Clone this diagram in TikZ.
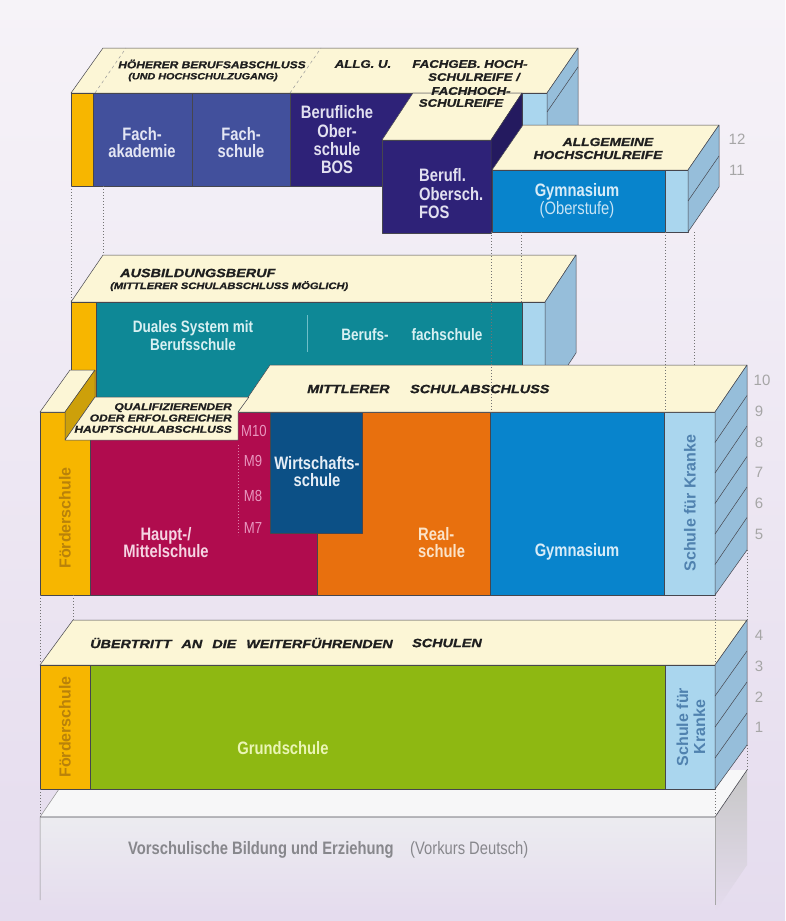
\documentclass[tikz,border=0pt]{standalone}
\usepackage{fontspec}
\setmainfont{Liberation Sans}
\newfontfamily\cf[FakeStretch=0.82]{Liberation Sans}
\newfontfamily\wf[FakeStretch=1.2,FakeBold=1.2]{Liberation Sans}
\newcommand\myfs[2]{\fontsize{#1}{#2}\selectfont}
\definecolor{bgtop}{RGB}{246,243,248}
\definecolor{bgbot}{RGB}{229,220,238}
\definecolor{cream}{RGB}{252,246,214}
\definecolor{yel}{RGB}{247,182,0}
\definecolor{olivey}{RGB}{205,160,10}
\definecolor{fblue}{RGB}{66,80,156}
\definecolor{purp}{RGB}{46,34,120}
\definecolor{purpside}{RGB}{36,26,95}
\definecolor{gymb}{RGB}{8,132,204}
\definecolor{kblue}{RGB}{170,214,238}
\definecolor{sideb}{RGB}{150,190,218}
\definecolor{myteal}{RGB}{14,136,150}
\definecolor{mag}{RGB}{176,12,78}
\definecolor{wblue}{RGB}{12,80,134}
\definecolor{oran}{RGB}{232,112,14}
\definecolor{grn}{RGB}{142,184,18}
\definecolor{edge}{RGB}{70,70,78}
\definecolor{fgold}{RGB}{185,130,10}
\definecolor{ktext}{RGB}{80,130,175}
\definecolor{slabtop}{RGB}{247,247,248}
\definecolor{slabfront}{RGB}{236,236,240}
\definecolor{vtext}{RGB}{135,135,140}
\tikzset{
  face/.style={draw=edge, line width=0.5pt, line join=round},
  blk/.style={font={\cf\bfseries\myfs{18}{17}}, align=center, inner sep=0pt},
  lbl/.style={font={\wf\bfseries\itshape\myfs{10}{11}}, text=black!88, inner sep=0pt, align=center},
  dots/.style={draw=black!55, line width=0.9pt, dash pattern=on 1pt off 2pt},
  yr/.style={font={\myfs{15}{15}}, text=black!35, inner sep=0pt},
  vert/.style={font={\bfseries\myfs{16}{16}}, rotate=90, inner sep=0pt, align=center},
  gline/.style={draw=edge, line width=0.5pt}
}
\begin{document}
\begin{tikzpicture}[x=1pt,y=-1pt]
\useasboundingbox (0,0) rectangle (785,921);
\fill[top color=bgtop, bottom color=bgbot] (0,0) rectangle (785,921);

% ---------- top block ----------
\path[face, fill=cream] (71,93)--(547,93)--(578,48)--(103,48)--cycle;
\draw[black!40, dashed, line width=0.5pt] (95,93)--(126,48);
\draw[black!40, dashed, line width=0.5pt] (290,93)--(321,48);
\path[face, fill=yel] (71,93) rectangle (93,186);
\path[face, fill=fblue] (93,93) rectangle (192,186);
\path[face, fill=fblue] (192,93) rectangle (290,186);
\path[face, fill=purp] (290,93) rectangle (522,186);
\path[face, fill=kblue] (522,93) rectangle (547,186);
\path[face, fill=sideb] (547,93)--(578,48)--(578,140)--(547,186)--cycle;
\draw[gline] (547,112)--(578,67);
% FOS block
\path[face, fill=cream] (382,140)--(491,140)--(522,93)--(413,93)--cycle;
\path[face, fill=purp] (382,140) rectangle (491,233);
\path[face, fill=purpside] (491,140)--(522,93)--(522,186)--(491,233)--cycle;
% Gymnasium Oberstufe block
\path[face, fill=cream] (492,170)--(688,170)--(719,125)--(523,125)--cycle;
\path[face, fill=gymb] (492,170) rectangle (665,232);
\path[face, fill=kblue] (665,170) rectangle (688,232);
\path[face, fill=sideb] (688,170)--(719,125)--(719,187)--(688,232)--cycle;
\draw[gline] (688,201)--(719,156);

\node[lbl] (l1) at (212,64) {HÖHERER BERUFSABSCHLUSS};
\node[lbl, font={\wf\bfseries\itshape\myfs{9}{10}}] (l2) at (203,77) {(UND HOCHSCHULZUGANG)};
\node[lbl, font={\wf\bfseries\itshape\myfs{11}{12}}] (l3) at (363,64) {ALLG. U.};
\node[lbl, font={\wf\bfseries\itshape\myfs{11}{12}}] (l4) at (470,64) {FACHGEB. HOCH-};
\node[lbl, font={\wf\bfseries\itshape\myfs{11}{12}}] (l5) at (474,77) {SCHULREIFE /};
\node[lbl, font={\wf\bfseries\itshape\myfs{11}{12}}] (l6) at (471,91) {FACHHOCH-};
\node[lbl, font={\wf\bfseries\itshape\myfs{11}{12}}] (l7) at (461,103) {SCHULREIFE};
\node[lbl, font={\wf\bfseries\itshape\myfs{11.5}{13}}] (l8) at (608,142) {ALLGEMEINE};
\node[lbl, font={\wf\bfseries\itshape\myfs{11.5}{13}}] (l9) at (598,155) {HOCHSCHULREIFE};

\node[blk, text={rgb,255:red,228;green,230;blue,244}] (fa) at (142,143) {Fach-\\akademie};
\node[blk, text={rgb,255:red,228;green,230;blue,244}] (fs) at (241,143) {Fach-\\schule};
\node[blk, font={\cf\bfseries\myfs{18}{18.3}}, text={rgb,255:red,226;green,224;blue,240}] (bos) at (337,140) {Berufliche\\Ober-\\schule\\BOS};
\node[blk, align=left, anchor=west, font={\cf\bfseries\myfs{18}{18.5}}, text={rgb,255:red,226;green,224;blue,240}] (fos) at (419,194) {Berufl.\\Obersch.\\FOS};
\node[blk, text={rgb,255:red,215;green,236;blue,248}] (gy1) at (577,192) {Gymnasium};
\node[inner sep=0pt, font={\cf\myfs{18}{18}}, text={rgb,255:red,200;green,228;blue,245}] (gy2) at (577,210) {(Oberstufe)};

% ---------- Ausbildung block ----------
\path[face, fill=cream] (71,302)--(545,302)--(576,255)--(103,255)--cycle;
\path[face, fill=yel] (71,302) rectangle (96,400);
\path[face, fill=myteal] (96,302) rectangle (522,400);
\path[face, fill=kblue] (522,302) rectangle (545,400);
\path[face, fill=sideb] (545,302)--(576,255)--(576,353)--(545,400)--cycle;
\draw[line width=1pt, draw={rgb,255:red,110;green,190;blue,200}] (307,315)--(307,352);
\node[lbl, anchor=west, font={\wf\bfseries\itshape\myfs{12}{12}}] (l10) at (120,273) {AUSBILDUNGSBERUF};
\node[lbl, anchor=west, font={\wf\bfseries\itshape\myfs{9.3}{10}}] (l11) at (110,286) {(MITTLERER SCHULABSCHLUSS MÖGLICH)};
\node[blk, font={\cf\bfseries\myfs{16.5}{18}}, text={rgb,255:red,216;green,240;blue,242}] (du) at (193,336) {Duales System mit\\Berufsschule};
\node[blk, font={\cf\bfseries\myfs{16.5}{18}}, text={rgb,255:red,216;green,240;blue,242}] (bf) at (365,335) {Berufs-};
\node[blk, font={\cf\bfseries\myfs{16.5}{18}}, text={rgb,255:red,216;green,240;blue,242}] (fc) at (447,335) {fachschule};

% ---------- big block (5-10) ----------
\path[face, fill=mag] (90,412) rectangle (317,595);
\path[face, fill=oran] (317,412) rectangle (490,595);
\path[face, fill=wblue] (270,412) rectangle (362,533);
\path[face, fill=gymb] (490,412) rectangle (664,595);
\path[face, fill=kblue] (664,412) rectangle (715,595);
\path[face, fill=yel] (40,412) rectangle (90,595);
\path[face, fill=cream] (238,412)--(715,412)--(747,365)--(270,365)--cycle;
\path[face, fill=cream] (40,412)--(65,412)--(95,370)--(70,370)--cycle;
\path[face, fill=olivey] (65,412)--(95,370)--(95,397)--(65,440)--cycle;
\path[face, fill=cream] (65,440)--(238,440)--(238,412)--(249,397)--(95,397)--cycle;
\path[face, fill=sideb] (715,412)--(747,365)--(747,550)--(715,595)--cycle;
\foreach \k in {1,...,5} {\draw[gline] (715,412+30.5*\k)--(747,365+30.5*\k);}
\draw[draw={rgb,255:red,220;green,130;blue,170}, line width=0.7pt, dash pattern=on 1pt off 2pt] (238,445)--(238,535);

\node[lbl, anchor=west, font={\wf\bfseries\itshape\myfs{12}{12}}] (l12) at (307,389) {MITTLERER};
\node[lbl, anchor=west, font={\wf\bfseries\itshape\myfs{12}{12}}] (l12b) at (410,389) {SCHULABSCHLUSS};
\node[lbl, anchor=east, align=right, font={\wf\bfseries\itshape\myfs{10}{11.3}}] (q) at (232,418) {QUALIFIZIERENDER\\ODER ERFOLGREICHER\\HAUPTSCHULABSCHLUSS};

\node[inner sep=0pt, font={\cf\myfs{16}{16}}, text={rgb,255:red,232;green,150;blue,190}] (m10) at (254,431) {M10};
\node[inner sep=0pt, font={\cf\myfs{16}{16}}, text={rgb,255:red,232;green,150;blue,190}] (m9) at (253,461) {M9};
\node[inner sep=0pt, font={\cf\myfs{16}{16}}, text={rgb,255:red,232;green,150;blue,190}] (m8) at (253,496) {M8};
\node[inner sep=0pt, font={\cf\myfs{16}{16}}, text={rgb,255:red,232;green,150;blue,190}] (m7) at (253,528) {M7};

\node[blk, text={rgb,255:red,245;green,213;blue,227}] (hm) at (166,543) {Haupt-/\\Mittelschule};
\node[blk, text={rgb,255:red,230;green,238;blue,246}] (ws) at (317,472) {Wirtschafts-\\schule};
\node[blk, align=left, anchor=west, text={rgb,255:red,251;green,227;blue,200}] (rs) at (418,543) {Real-\\schule};
\node[blk, text={rgb,255:red,215;green,236;blue,248}] (gy) at (577,552) {Gymnasium};
\node[vert, text=fgold] (f1) at (65,518) {Förderschule};
\node[vert, text=ktext] (k1) at (690,503) {Schule für Kranke};

% ---------- Vorschul slab ----------
\path[top color=slabfront, bottom color=bgbot] (40,817) rectangle (715,912);
\path[top color=black!22!white, bottom color=bgbot] (715,817)--(747,770)--(747,865)--(715,912)--cycle;
\path[fill=slabtop] (40,817)--(715,817)--(747,770)--(72,770)--cycle;
\draw[draw=edge, line width=0.6pt] (40,817)--(715,817)--(747,770);
\draw[draw=black!45, line width=0.5pt] (72,770)--(40,817)--(40,900);
\draw[draw=black!35, line width=0.5pt] (715,817)--(715,905);
\node[anchor=west, inner sep=0pt, font={\cf\bfseries\myfs{18}{18}}, text=vtext] (vb) at (128,850) {Vorschulische Bildung und Erziehung};
\node[anchor=west, inner sep=0pt, font={\cf\myfs{18}{18}}, text=vtext] (vk) at (410,850) {(Vorkurs Deutsch)};

% ---------- Grundschule block ----------
\path[face, fill=cream] (40,665)--(715,665)--(747,620)--(73,620)--cycle;
\path[face, fill=yel] (40,665) rectangle (90,789);
\path[face, fill=grn] (90,665) rectangle (665,789);
\path[face, fill=kblue] (665,665) rectangle (715,789);
\path[face, fill=sideb] (715,665)--(747,620)--(747,745)--(715,789)--cycle;
\foreach \k in {1,2,3} {\draw[gline] (715,665+31*\k)--(747,620+31*\k);}
\node[lbl, anchor=west, font={\wf\bfseries\itshape\myfs{12}{12}}] (l13) at (90,643) {ÜBERTRITT\hspace{6pt} AN\hspace{6pt} DIE\hspace{6pt} WEITERFÜHRENDEN};
\node[lbl, anchor=west, font={\wf\bfseries\itshape\myfs{12}{12}}] (l14) at (412,643) {SCHULEN};
\node[blk, text={rgb,255:red,234;green,245;blue,181}] (gs) at (283,748) {Grundschule};
\node[vert, text=fgold] (f2) at (65,727) {Förderschule};
\node[vert, text=ktext, font={\bfseries\myfs{16}{17}}] (k2) at (691,727) {Schule für\\Kranke};

% ---------- year numbers ----------
\node[yr] (y12) at (737,139) {12};
\node[yr] (y11) at (737,170) {11};
\node[yr] (y10) at (762,380) {10};
\node[yr] (y9) at (759,411) {9};
\node[yr] (y8) at (759,442) {8};
\node[yr] (y7) at (759,472) {7};
\node[yr] (y6) at (759,503) {6};
\node[yr] (y5) at (759,534) {5};
\node[yr] (y4) at (759,635) {4};
\node[yr] (y3) at (759,666) {3};
\node[yr] (y2) at (759,697) {2};
\node[yr] (y1) at (759,727) {1};

% ---------- dotted guide lines ----------
\draw[dots] (71,186)--(71,302);
\draw[dots] (103,186)--(103,255);
\draw[dots] (491,232)--(491,412);
\draw[dots] (521,232)--(521,302);
\draw[dots] (665,232)--(665,412);
\draw[dots] (694,232)--(694,365);
\draw[dots] (747,550)--(747,620);
\draw[dots] (715,595)--(715,665);
\draw[dots] (40,595)--(40,665);
\draw[dots] (73,595)--(73,620);
\draw[dots] (40,789)--(40,817);
\draw[dots] (715,789)--(715,817);
\draw[dots] (747,745)--(747,770);
\end{tikzpicture}
\end{document}
